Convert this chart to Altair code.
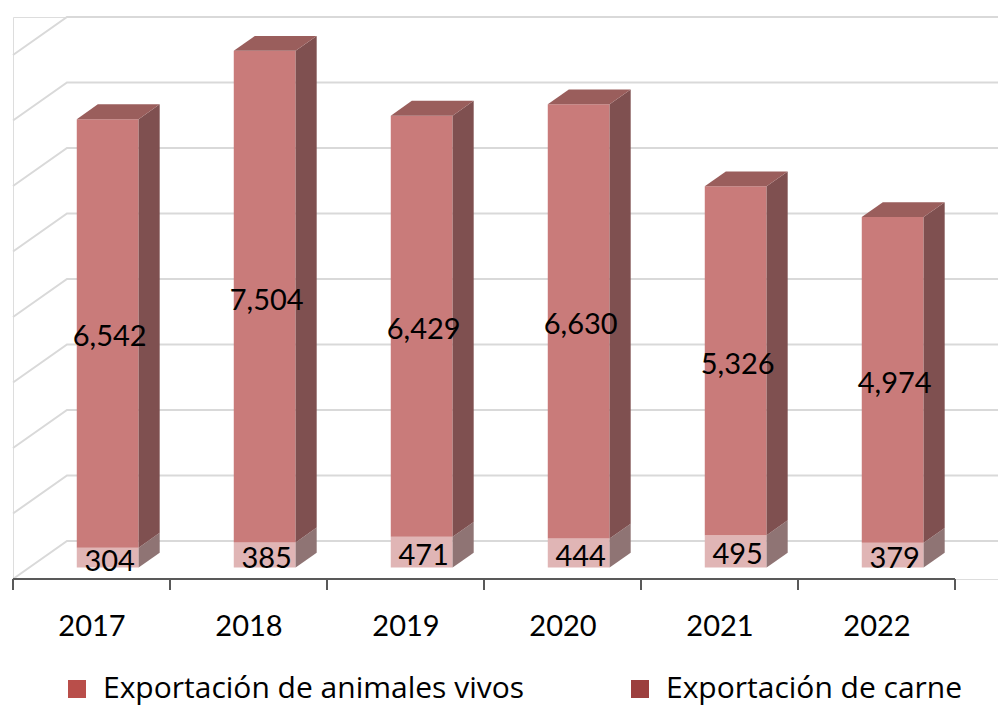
import json
import altair as alt
import pandas as pd

# ---------------- data ----------------
YEARS = ["2017", "2018", "2019", "2020", "2021", "2022"]
VIVOS = [304, 385, 471, 444, 495, 379]          # bottom segment
CARNE = [6542, 7504, 6429, 6630, 5326, 4974]    # top segment
SERIES = ["Exportación de animales vivos", "Exportación de carne"]
LEGEND_COLORS = ["#b94e4a", "#9c3f3e"]
GRID_VALUES = [0, 1000, 2000, 3000, 4000, 5000, 6000, 7000, 8000]

# ---------------- style / geometry ----------------
W, H = 985, 562
CAT_PX = 157.0
DEPTH_PX = (54.0, 38.0)          # oblique depth of the whole floor
XMIN = -0.5
XMAX = XMIN + W / CAT_PX
YMAX = 8000 / (1 - DEPTH_PX[1] / H)
K = H / YMAX                      # px per value unit
DX = DEPTH_PX[0] / CAT_PX
DY = DEPTH_PX[1] / K
ZF, ZB = 0.30, 0.69               # bar front / back depth fraction
BH = 0.197                        # half bar width (category units)
TICK = 11 / K

FONT = "Lato"
LEGEND_FONT = "Open Sans"
C_FRONT = {"top": "#c97b7a", "bot": "#e0b5b5"}
C_SIDE = {"top": "#7f5050", "bot": "#8f7474"}
C_TOPFACE = "#9a5e5c"
GRID_COLOR = "#d9d9d9"
AXIS_COLOR = "#595959"

# ---------------- tables ----------------
fronts, sides, tops, labels = [], [], [], []
for i, (yr, v, c) in enumerate(zip(YEARS, VIVOS, CARNE)):
    for seg, lo, hi in (("bot", 0, v), ("top", v, v + c)):
        xl = i + ZF * DX - BH
        xr = i + ZF * DX + BH
        fronts.append(dict(seg=seg, x=xl, x2=xr, y=lo + ZF * DY, y2=hi + ZF * DY))
        pid = f"{yr}-{seg}"
        sides.append(dict(seg=seg, pid=pid, x=xr, y=lo + ZF * DY, y2=hi + ZF * DY))
        sides.append(dict(seg=seg, pid=pid, x=xr + (ZB - ZF) * DX,
                          y=lo + ZB * DY, y2=hi + ZB * DY))
        if seg == "top":
            tops.append(dict(pid=pid, y=hi + ZF * DY, x=xl, x2=xr))
            tops.append(dict(pid=pid, y=hi + ZB * DY,
                             x=xl + (ZB - ZF) * DX, x2=xr + (ZB - ZF) * DX))
        labels.append(dict(seg=seg, x=i + ZF * DX, y=(lo + hi) / 2 + ZF * DY,
                           val=hi - lo))

grid = []
for g in GRID_VALUES:
    grid.append(dict(gid=g, o=0, x=XMIN, y=g))
    grid.append(dict(gid=g, o=1, x=XMIN + DX, y=g + DY))
    grid.append(dict(gid=g, o=2, x=XMAX, y=g + DY))

ticks = pd.DataFrame(dict(x=[XMIN + j for j in range(len(YEARS) + 1)],
                          y=0.0, y2=-TICK))
axisline = pd.DataFrame(dict(x=[XMIN], x2=[XMIN + len(YEARS)], y=[0.0]))

fronts = pd.DataFrame(fronts)
sides = pd.DataFrame(sides)
tops = pd.DataFrame(tops)
labels = pd.DataFrame(labels)
grid = pd.DataFrame(grid)
legend_df = pd.DataFrame(dict(series=SERIES))

label_expr = json.dumps(YEARS) + "[datum.value]"
XAXIS = alt.Axis(values=list(range(len(YEARS))), labelExpr=label_expr,
                 ticks=False, tickSize=0, domain=False, grid=False, title=None,
                 labelFont=FONT, labelFontSize=29, labelColor="#000000",
                 labelPadding=33, labelBaseline="top")
XS = alt.Scale(domain=[XMIN, XMAX], nice=False, zero=False)
YS = alt.Scale(domain=[0, YMAX], nice=False, zero=False)


def X(f="x"):
    return alt.X(f"{f}:Q", scale=XS, axis=XAXIS)


def Y(f="y"):
    return alt.Y(f"{f}:Q", scale=YS, axis=None)


gridlines = alt.Chart(grid).mark_line(color=GRID_COLOR, strokeWidth=2).encode(
    x=X(), y=Y(), detail="gid:N", order="o:Q")

axis_rule = alt.Chart(axisline).mark_rule(color=AXIS_COLOR, strokeWidth=2).encode(
    x=X(), x2="x2:Q", y=Y())
tick_rules = alt.Chart(ticks).mark_rule(color=AXIS_COLOR, strokeWidth=2).encode(
    x=X(), y=Y(), y2="y2:Q")

layers = [gridlines, axis_rule, tick_rules]
for seg in ("bot", "top"):
    layers.append(alt.Chart(fronts).transform_filter(f"datum.seg == '{seg}'")
                  .mark_rect(color=C_FRONT[seg]).encode(x=X(), x2="x2:Q", y=Y(), y2="y2:Q"))
    layers.append(alt.Chart(sides).transform_filter(f"datum.seg == '{seg}'")
                  .mark_area(color=C_SIDE[seg], orient="vertical")
                  .encode(x=X(), y=Y(), y2="y2:Q", detail="pid:N"))
layers.append(alt.Chart(tops).mark_area(color=C_TOPFACE, orient="horizontal")
              .encode(y=Y(), x=X(), x2="x2:Q", detail="pid:N"))
layers.append(alt.Chart(labels).mark_text(font=FONT, fontSize=29, color="#000000",
                                          baseline="middle", align="center",
                                          dx=2, dy=4)
              .encode(x=X(), y=Y(), text=alt.Text("val:Q", format=",")))

legend_layer = alt.Chart(legend_df).mark_square(opacity=0, size=10).encode(
    color=alt.Color("series:N",
                    scale=alt.Scale(domain=SERIES, range=LEGEND_COLORS),
                    legend=alt.Legend(orient="none", legendX=49, legendY=657,
                                      direction="horizontal", title=None,
                                      symbolType="square", symbolSize=324,
                                      symbolOpacity=1, symbolStrokeWidth=0,
                                      labelFont=LEGEND_FONT, labelFontSize=30,
                                      labelColor="#000000", labelOffset=11,
                                      columnPadding=100, labelLimit=0)))
layers.append(legend_layer)

chart = alt.layer(*layers).properties(
    width=W, height=H,
    autosize=alt.AutoSizeParams(type="none"),
    padding={"left": 5, "top": 9, "right": 0, "bottom": 127},
).configure_view(stroke=None).configure(background="#ffffff")

chart.save("out.html", embed_options={"renderer": "svg", "actions": False})
